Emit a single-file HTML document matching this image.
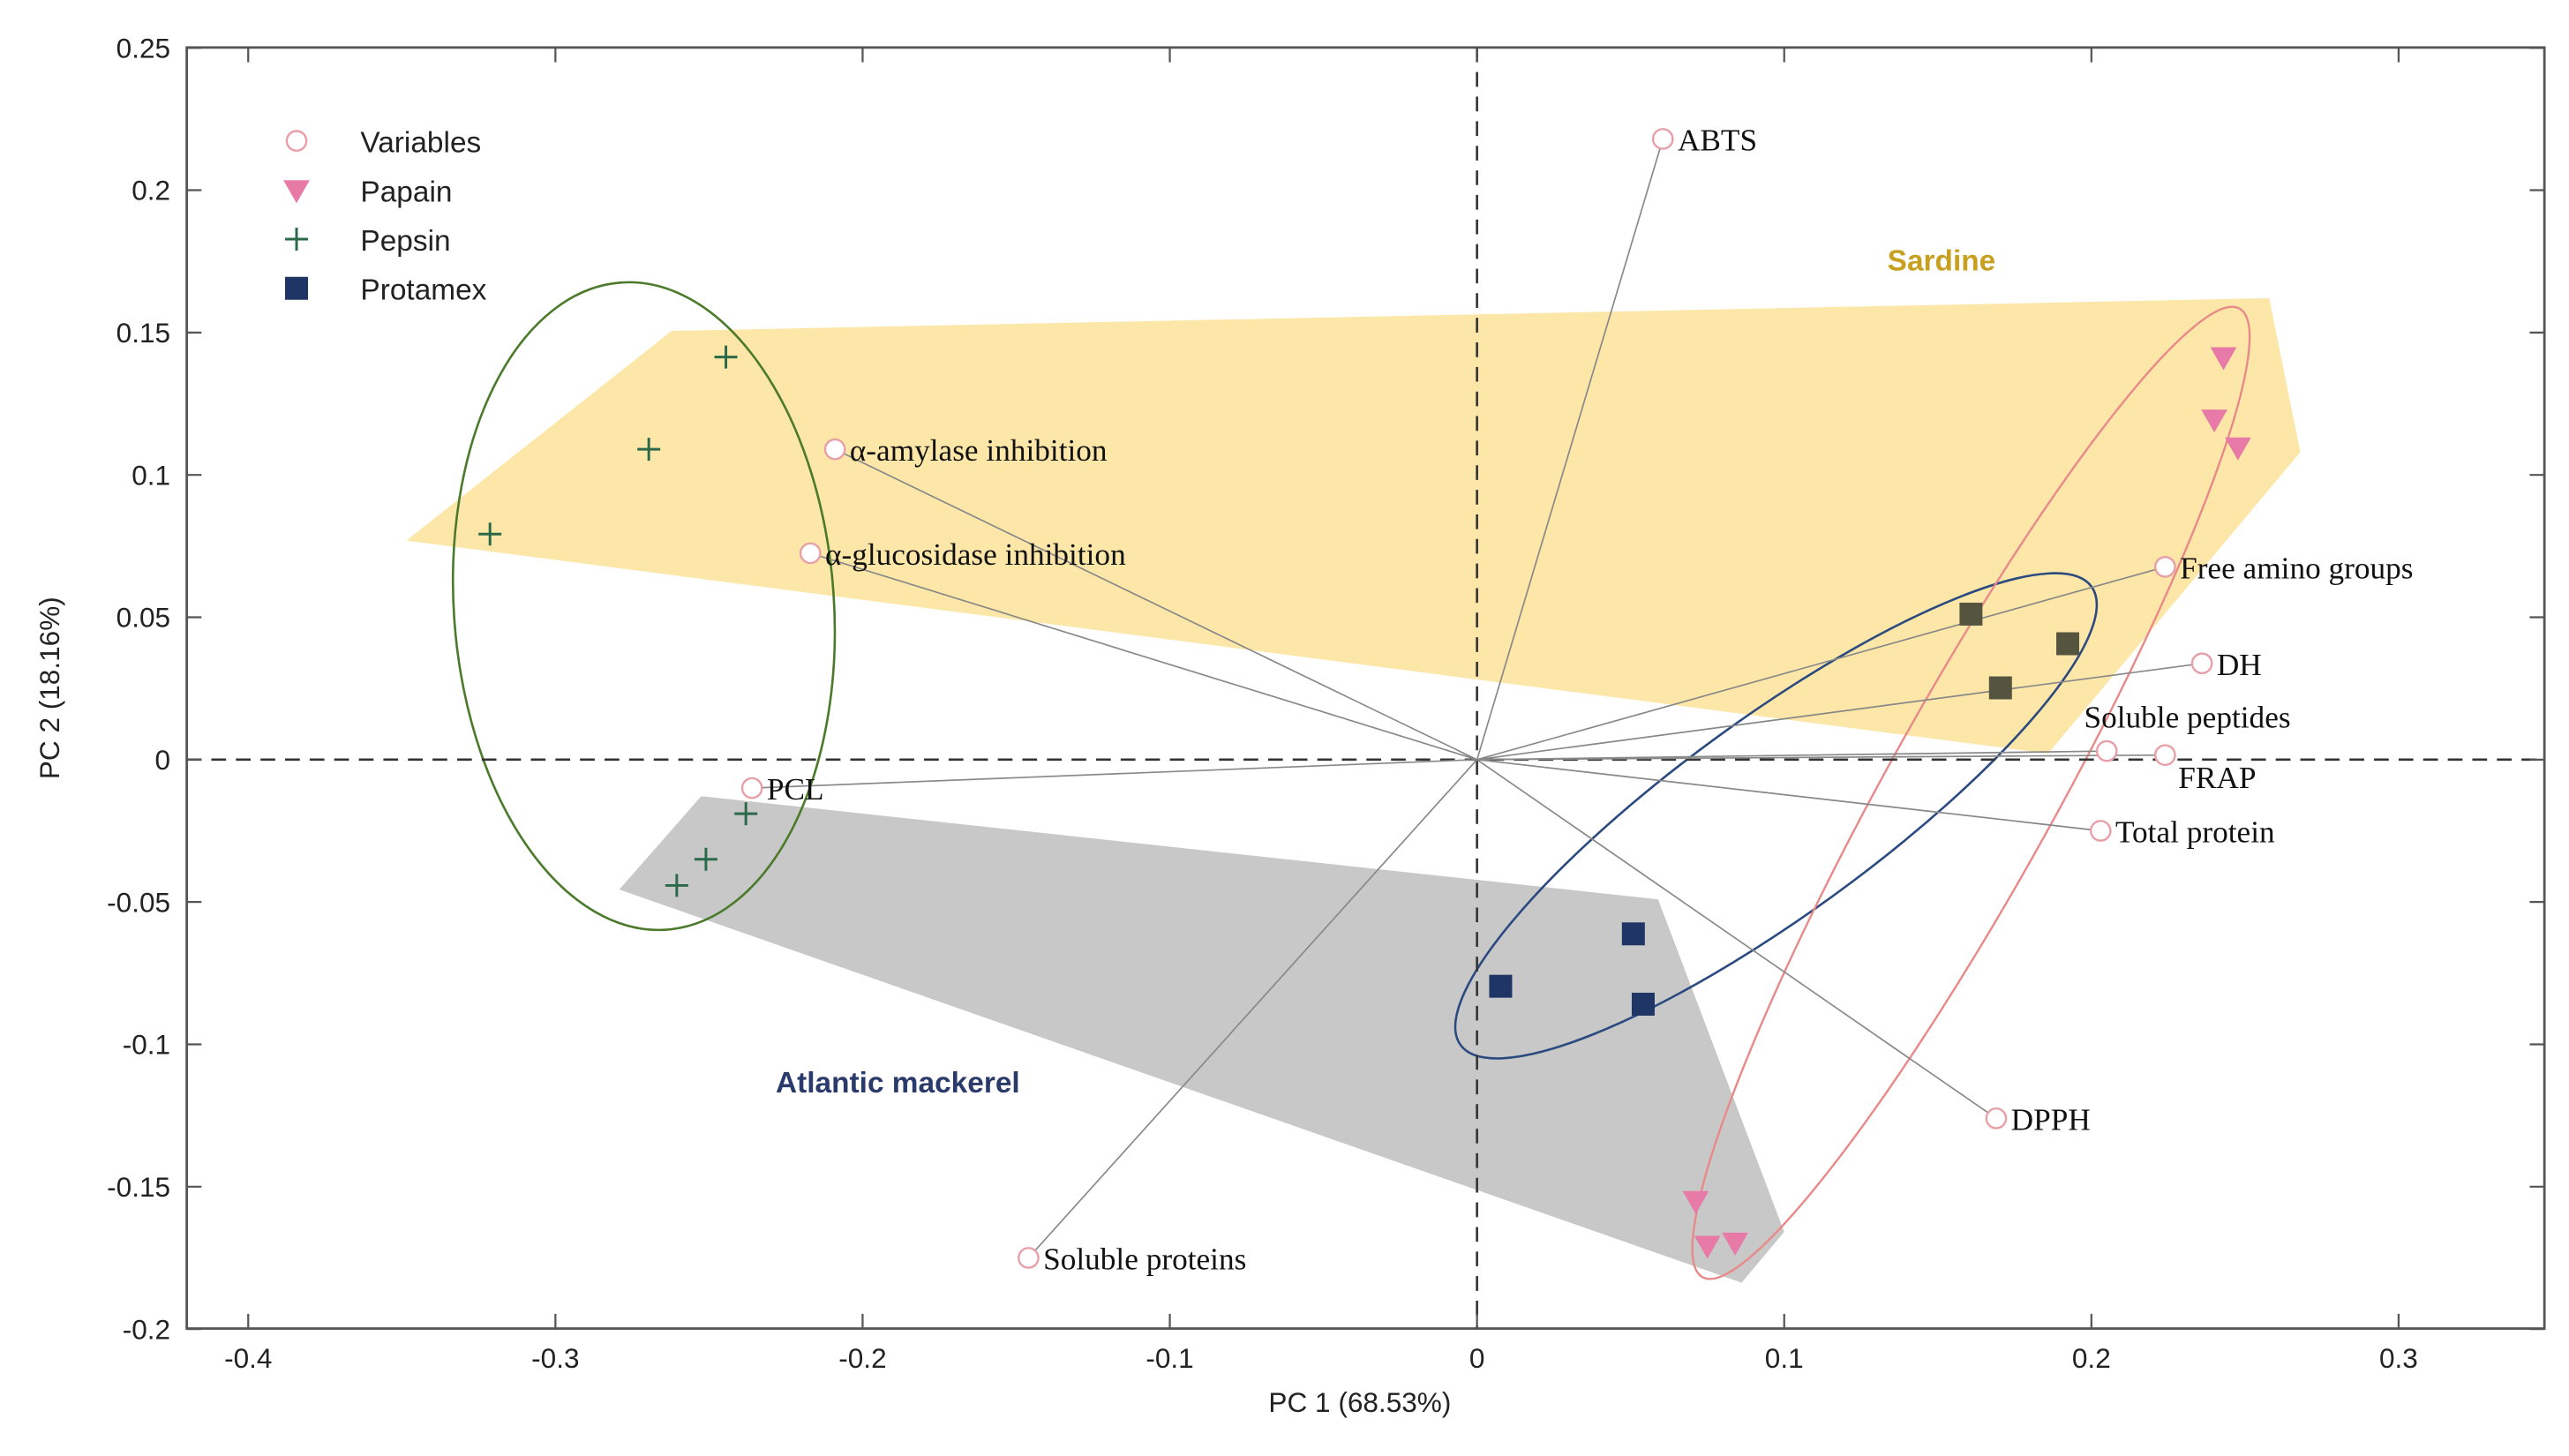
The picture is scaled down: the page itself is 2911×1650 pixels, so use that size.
<!DOCTYPE html>
<html><head><meta charset="utf-8"><style>
html,body{margin:0;padding:0;background:#fff}
svg{display:block}
.tk{font-family:"Liberation Sans",sans-serif;font-size:17px;fill:#222}
.vl{font-family:"Liberation Serif",serif;font-size:19px;fill:#111}
.lg{font-family:"Liberation Sans",sans-serif;font-size:18px;fill:#222}
</style></head><body>
<svg id="chart" width="2911" height="1650" viewBox="0 0 1568 888.8" preserveAspectRatio="none" xmlns="http://www.w3.org/2000/svg">
<g id="regions"></g><g id="ellipses"></g><g id="axes"></g><g id="vectors"></g><g id="marks"></g><g id="labels"></g>
</svg>
<script>
const xTicks=[-0.4,-0.3,-0.2,-0.1,0,0.1,0.2,0.3];
const yTicks=[0.25,0.2,0.15,0.1,0.05,0,-0.05,-0.1,-0.15,-0.2];
const yTickLabels=["0.25","0.2","0.15","0.1","0.05","0","-0.05","-0.1","-0.15","-0.2"];
const varNames=["ABTS","Free amino groups","DH","Soluble peptides","FRAP","Total protein","DPPH","Soluble proteins","PCL","α-amylase inhibition","α-glucosidase inhibition"];
const varX=[0.0605,0.224,0.236,0.205,0.224,0.203,0.169,-0.146,-0.236,-0.209,-0.217];
const varY=[0.218,0.0677,0.0338,0.003,0.0016,-0.025,-0.126,-0.175,-0.010,0.109,0.0725];
const papainX=[0.243,0.240,0.2477,0.0712,0.075,0.084];
const papainY=[0.1414,0.1195,0.1097,-0.155,-0.1707,-0.1696];
const pepsinX=[-0.2445,-0.2696,-0.3213,-0.238,-0.251,-0.2605];
const pepsinY=[0.1414,0.109,0.0792,-0.019,-0.035,-0.0442];
const protamexX=[0.1608,0.1923,0.1704,0.0509,0.0077,0.0541];
const protamexY=[0.0511,0.0407,0.0252,-0.0612,-0.0796,-0.0859];
const protamexSpecies=["sardine","sardine","sardine","mackerel","mackerel","mackerel"];

const L=114,R=1553,T=29,B=811;
const sx=v=>901.5+v*1875;
const sy=v=>463.7-v*1738;
const NS="http://www.w3.org/2000/svg";
function mk(tag,parent,attrs){const e=document.createElementNS(NS,tag);for(const k in attrs)e.setAttribute(k,attrs[k]);document.getElementById(parent).appendChild(e);return e;}

// regions (approximate hull shapes, display coords)
let p=mk('polygon','regions',{points:"248,330 410,202 1385,182 1404,276 1250,460",fill:"#fde7a8"});


p=mk('polygon','regions',{points:"378,543 428,486 1012,549 1089,752 1063,783",fill:"#c8c8c8"});



// ellipses
let e=mk('ellipse','ellipses',{cx:393,cy:370,rx:116,ry:198,transform:"rotate(-4 393 370)",fill:"none",stroke:"#4a7a2a","stroke-width":1.4});


e=mk('ellipse','ellipses',{cx:1084,cy:498,rx:238,ry:60,transform:"rotate(-36 1084 498)",fill:"none",stroke:"#2a4a80","stroke-width":1.4});


e=mk('ellipse','ellipses',{cx:1203,cy:484,rx:338,ry:52,transform:"rotate(-61 1203 484)",fill:"none",stroke:"#e88a8a","stroke-width":1.3});



// axes frame
let f=mk('rect','axes',{x:L,y:T,width:R-L,height:B-T,fill:"none",stroke:"#555","stroke-width":1.5});


let z=mk('line','axes',{x1:sx(0),x2:sx(0),y1:T,y2:B,stroke:"#333","stroke-width":1.4,"stroke-dasharray":"9,6"});


z=mk('line','axes',{x1:L,x2:R,y1:sy(0),y2:sy(0),stroke:"#333","stroke-width":1.4,"stroke-dasharray":"9,6"});


xTicks.forEach(v=>{
  const x=sx(v);
  mk('line','axes',{x1:x,x2:x,y1:B,y2:B-9,stroke:"#555","stroke-width":1.2});
  mk('line','axes',{x1:x,x2:x,y1:T,y2:T+9,stroke:"#555","stroke-width":1.2});
  const t=mk('text','axes',{x:x,y:B+24,"text-anchor":"middle",class:"tk"});
  t.textContent=v===0?"0":String(v);
  
  
});
yTicks.forEach((v,i)=>{
  const y=sy(v);
  mk('line','axes',{x1:L,x2:L+9,y1:y,y2:y,stroke:"#555","stroke-width":1.2});
  mk('line','axes',{x1:R,x2:R-9,y1:y,y2:y,stroke:"#555","stroke-width":1.2});
  const t=mk('text','axes',{x:L-10,y:y+6,"text-anchor":"end",class:"tk"});
  t.textContent=yTickLabels[i];
  
  
});
let xt=mk('text','axes',{x:830,y:862,"text-anchor":"middle",class:"tk"});xt.textContent="PC 1 (68.53%)";


let yt=mk('text','axes',{x:36,y:420,"text-anchor":"middle",class:"tk",transform:"rotate(-90 36 420)"});yt.textContent="PC 2 (18.16%)";



// vectors + variable points
const lblOff={"Soluble peptides":[-15,-16,"start"],"FRAP":[8,20,"start"]};
varNames.forEach((n,i)=>{
  const x=sx(varX[i]),y=sy(varY[i]);
  const l=mk('line','vectors',{x1:sx(0),y1:sy(0),x2:x,y2:y,stroke:"#888","stroke-width":0.9});
  
  
  const c=mk('circle','marks',{cx:x,cy:y,r:6,fill:"#fff",stroke:"#e8a0a8","stroke-width":1.3});
  
  
  let o=lblOff[n]||[9,7,"start"];
  let tx=x+o[0],ty=y+o[1];
  if(n==="Soluble peptides"){tx=1272;ty=444;}
  const t=mk('text','labels',{x:tx,y:ty,class:"vl","text-anchor":o[2]});
  t.textContent=n;
  
  
});

// papain
papainX.forEach((v,i)=>{
  const x=sx(v),y=sy(papainY[i]);
  const t=mk('polygon','marks',{points:`${x-8},${y-6} ${x+8},${y-6} ${x},${y+8}`,fill:"#e87aa8"});
  
  
});
// pepsin
pepsinX.forEach((v,i)=>{
  const x=sx(v),y=sy(pepsinY[i]);
  const g=mk('path','marks',{d:`M${x-7},${y}H${x+7}M${x},${y-7}V${y+7}`,stroke:"#2a6a4a","stroke-width":1.6});
  
  
});
// protamex
protamexX.forEach((v,i)=>{
  const x=sx(v),y=sy(protamexY[i]);
  const r=mk('rect','marks',{x:x-7,y:y-7,width:14,height:14,fill:protamexSpecies[i]==="sardine"?"#55553f":"#1f3566"});
  
  
});

// region titles
let s=mk('text','labels',{x:1185,y:165,"text-anchor":"middle","font-family":"Liberation Sans,sans-serif","font-size":18,"font-weight":"bold",fill:"#c8a020"});s.textContent="Sardine";


s=mk('text','labels',{x:548,y:667,"text-anchor":"middle","font-family":"Liberation Sans,sans-serif","font-size":18,"font-weight":"bold",fill:"#2a3a6a"});s.textContent="Atlantic mackerel";



// legend
const lgNames=["Variables","Papain","Pepsin","Protamex"];
lgNames.forEach((n,i)=>{
  const y=86+i*30;
  let m;
  if(i===0)m=mk('circle','labels',{cx:181,cy:y,r:6,fill:"#fff",stroke:"#e8a0a8","stroke-width":1.3});
  if(i===1)m=mk('polygon','labels',{points:`${173},${y-6} ${189},${y-6} ${181},${y+8}`,fill:"#e87aa8"});
  if(i===2)m=mk('path','labels',{d:`M174,${y}H188M181,${y-7}V${y+7}`,stroke:"#2a6a4a","stroke-width":1.6});
  if(i===3)m=mk('rect','labels',{x:174,y:y-7,width:14,height:14,fill:"#1f3566"});
  
  
  const t=mk('text','labels',{x:220,y:y+7,class:"lg"});t.textContent=n;
  
  
});
</script>
</body></html>
